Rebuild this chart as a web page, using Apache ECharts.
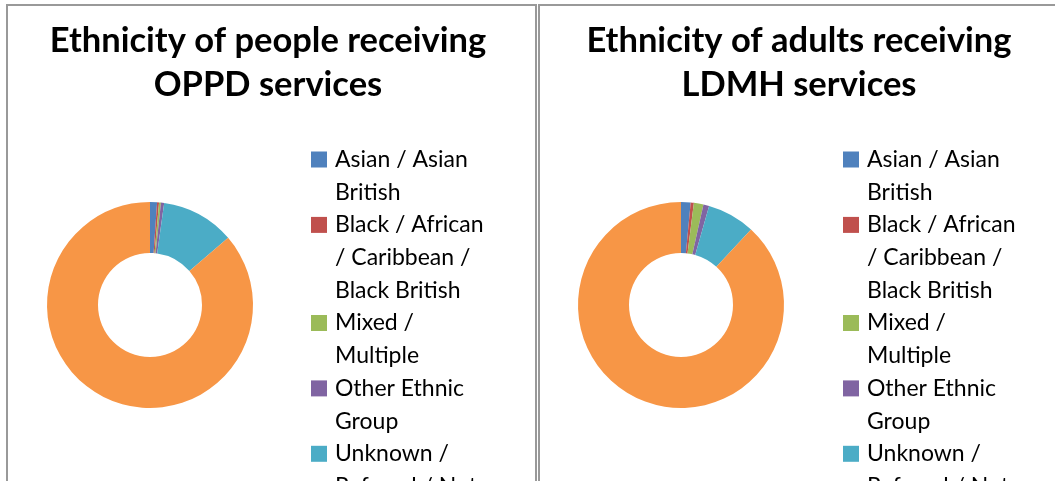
<!DOCTYPE html>
<html><head><meta charset="utf-8">
<script src="https://cdn.jsdelivr.net/npm/echarts@6/dist/echarts.min.js"></script>
<style>html,body{margin:0;padding:0;background:#fff}#c{width:1055px;height:481px}</style>
</head><body><div id="c"></div>
<script>
const categories = ['Asian / Asian British', 'Black / African / Caribbean / Black British', 'Mixed / Multiple', 'Other Ethnic Group', 'Unknown / Refused / Not stated', 'White'];
const colors = ['#4F81BD', '#C0504D', '#9BBB59', '#8064A2', '#4BACC6', '#F79646'];
const oppdValues = [1.1, 0.3, 0.3, 0.5, 11.5, 86.3];
const ldmhValues = [1.5, 0.5, 1.5, 0.9, 7.5, 88.1];
const titles = ['Ethnicity of people receiving\nOPPD services', 'Ethnicity of adults receiving\nLDMH services'];

const FONT_FAMILY = 'Lato';
const LEG_FONT = '23px ' + FONT_FAMILY;
const LEG_LH = 32.7;
const LEG_WIDTH = 158;

const ctx = document.createElement('canvas').getContext('2d');
ctx.font = LEG_FONT;
function wrap(text) {
  const words = text.split(' ');
  const lines = [];
  let cur = '';
  words.forEach(w => {
    const t = cur ? cur + ' ' + w : w;
    if (cur && ctx.measureText(t).width > LEG_WIDTH) { lines.push(cur); cur = w; }
    else cur = t;
  });
  if (cur) lines.push(cur);
  return lines;
}

const panels = [
  { values: oppdValues, center: [150, 305], titleX: 268, legX: 311 },
  { values: ldmhValues, center: [681, 305], titleX: 799, legX: 843 }
];

const graphics = [
  { type: 'rect', shape: { x: 7, y: 5, width: 529, height: 600 }, style: { fill: 'none', stroke: '#999', lineWidth: 2 }, silent: true },
  { type: 'rect', shape: { x: 539, y: 5, width: 600, height: 600 }, style: { fill: 'none', stroke: '#999', lineWidth: 2 }, silent: true }
];

panels.forEach(p => {
  let y = 159.5;
  categories.forEach((name, i) => {
    const lines = wrap(name);
    graphics.push({ type: 'rect', shape: { x: p.legX, y: y - 8, width: 16, height: 16 }, style: { fill: colors[i] }, silent: true });
    graphics.push({ type: 'text', x: p.legX + 24, y: y - LEG_LH / 2, style: { text: lines.join('\n'), font: LEG_FONT, lineHeight: LEG_LH, fill: '#000', verticalAlign: 'top', align: 'left' }, silent: true });
    y += lines.length * LEG_LH;
  });
});

const chart = echarts.init(document.getElementById('c'), null, { renderer: 'canvas' });
chart.setOption({
  animation: false,
  color: colors,
  title: panels.map((p, k) => ({
    text: titles[k], left: p.titleX, top: 19, textAlign: 'center', padding: 0,
    textStyle: { fontFamily: FONT_FAMILY, fontSize: 34.5, fontWeight: 'bold', lineHeight: 44, color: '#000' }
  })),
  graphic: graphics,
  series: panels.map(p => ({
    type: 'pie',
    center: p.center,
    radius: [52, 103],
    startAngle: 90,
    clockwise: true,
    label: { show: false },
    labelLine: { show: false },
    emphasis: { disabled: true },
    itemStyle: { borderWidth: 0 },
    data: categories.map((n, i) => ({ name: n, value: p.values[i] }))
  }))
});
</script></body></html>
